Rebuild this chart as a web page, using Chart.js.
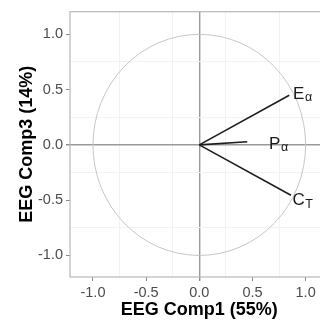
<!DOCTYPE html>
<html lang="en">
<head>
    <meta charset="UTF-8">
    <title>EEG correlation circle</title>
    <script src="https://cdn.jsdelivr.net/npm/chart.js"></script>
    <style>
        body {
            margin: 0;
            padding: 0;
            background: white;
            overflow: hidden;
        }
        canvas {
            display: block;
        }
    </style>
</head>
<body>
    <canvas id="pcaChart" width="330" height="322"></canvas>

    <script>
        // variable loadings on the two components
        const varMain = ["E", "P", "C"];
        const varSub = ["α", "α", "T"];
        const comp1 = [0.846, 0.451, 0.862];
        const comp3 = [0.449, 0.029, -0.456];

        // where the variable names sit (left edge / baseline, data units)
        const labelX = [0.882, 0.656, 0.877];
        const labelY = [0.417, -0.036, -0.545];

        // axis ticks
        const tickValues = [-1, -0.5, 0, 0.5, 1];
        const tickLabels = ["-1.0", "-0.5", "0.0", "0.5", "1.0"];
        const minorGrid = [-0.75, -0.25, 0.25, 0.75];

        const circleRadius = 1;
        const xTitle = "EEG Comp1 (55%)";
        const yTitle = "EEG Comp3 (14%)";

        const FONT = "'Liberation Sans', Arial, Helvetica, sans-serif";

        function isMajor(v) {
            return tickValues.some(t => Math.abs(t - v) < 1e-9);
        }

        function labelFor(v) {
            const i = tickValues.findIndex(t => Math.abs(t - v) < 1e-9);
            return i >= 0 ? tickLabels[i] : "";
        }

        function axisOptions(min, max) {
            return {
                type: "linear",
                min: min,
                max: max,
                afterBuildTicks: function (axis) {
                    const all = tickValues.concat(minorGrid).sort((a, b) => a - b);
                    axis.ticks = all.map(v => ({ value: v }));
                },
                ticks: {
                    autoSkip: false,
                    maxRotation: 0,
                    padding: 3,
                    color: "#4d4d4d",
                    font: { family: FONT, size: 14.5 },
                    callback: function (value) {
                        return labelFor(value);
                    }
                },
                grid: {
                    drawTicks: true,
                    tickLength: 4,
                    color: function (ctx) {
                        const v = ctx.tick ? ctx.tick.value : null;
                        if (v === null) return "transparent";
                        if (Math.abs(v) < 1e-9) return "#9a9a9a";
                        return isMajor(v) ? "transparent" : "#f2f2f2";
                    },
                    lineWidth: function (ctx) {
                        const v = ctx.tick ? ctx.tick.value : 1;
                        return Math.abs(v) < 1e-9 ? 1.4 : 1;
                    },
                    tickColor: function (ctx) {
                        const v = ctx.tick ? ctx.tick.value : null;
                        return v !== null && isMajor(v) ? "#8a8a8a" : "transparent";
                    }
                },
                border: { display: false }
            };
        }

        // unit circle + panel frame drawn behind the vectors
        const circlePlugin = {
            id: "circlePlugin",
            beforeDatasetsDraw(chart) {
                const { ctx, chartArea, scales } = chart;
                const cx = scales.x.getPixelForValue(0);
                const cy = scales.y.getPixelForValue(0);
                const rx = scales.x.getPixelForValue(circleRadius) - cx;
                const ry = cy - scales.y.getPixelForValue(circleRadius);
                ctx.save();
                ctx.strokeStyle = "#c6c6c6";
                ctx.lineWidth = 1;
                ctx.beginPath();
                ctx.ellipse(cx, cy, rx, ry, 0, 0, Math.PI * 2);
                ctx.stroke();

                ctx.strokeStyle = "#b8b8b8";
                ctx.lineWidth = 1.2;
                ctx.strokeRect(chartArea.left, chartArea.top,
                    chartArea.right - chartArea.left, chartArea.bottom - chartArea.top);
                ctx.restore();
            }
        };

        // variable names with subscripts, and the axis titles
        const textPlugin = {
            id: "textPlugin",
            afterDraw(chart) {
                const { ctx, chartArea, scales } = chart;
                ctx.save();
                ctx.fillStyle = "#1a1a1a";
                ctx.textBaseline = "alphabetic";
                ctx.textAlign = "left";
                for (let i = 0; i < varMain.length; i++) {
                    const px = scales.x.getPixelForValue(labelX[i]);
                    const py = scales.y.getPixelForValue(labelY[i]);
                    ctx.font = "17px " + FONT;
                    ctx.fillText(varMain[i], px, py);
                    const w = ctx.measureText(varMain[i]).width;
                    ctx.font = "12.5px " + FONT;
                    ctx.fillText(varSub[i], px + w + 0.5, py + 2.5);
                }

                ctx.fillStyle = "#000";
                ctx.font = "bold 18px " + FONT;
                ctx.textAlign = "center";
                const midX = (chartArea.left + chartArea.right) / 2;
                ctx.fillText(xTitle, midX, 315);

                const midY = (chartArea.top + chartArea.bottom) / 2;
                ctx.translate(32, midY);
                ctx.rotate(-Math.PI / 2);
                ctx.fillText(yTitle, 0, 0);
                ctx.restore();
            }
        };

        const datasets = varMain.map((name, i) => ({
            label: name + varSub[i],
            data: [{ x: 0, y: 0 }, { x: comp1[i], y: comp3[i] }],
            showLine: true,
            borderColor: "#1e1e1e",
            borderWidth: 1.6,
            pointRadius: 0,
            fill: false
        }));

        const xAxis = axisOptions(-1.216, 1.216);
        xAxis.afterFit = function (scale) { scale.height = 45; };
        const yAxis = axisOptions(-1.195, 1.205);
        yAxis.afterFit = function (scale) { scale.width = 70; };

        new Chart(document.getElementById("pcaChart").getContext("2d"), {
            type: "scatter",
            data: { datasets: datasets },
            options: {
                responsive: false,
                animation: false,
                layout: { padding: { top: 5, right: 1.4, left: 0, bottom: 0 } },
                scales: { x: xAxis, y: yAxis },
                plugins: {
                    legend: { display: false },
                    tooltip: { enabled: false }
                }
            },
            plugins: [circlePlugin, textPlugin]
        });
    </script>
</body>
</html>
